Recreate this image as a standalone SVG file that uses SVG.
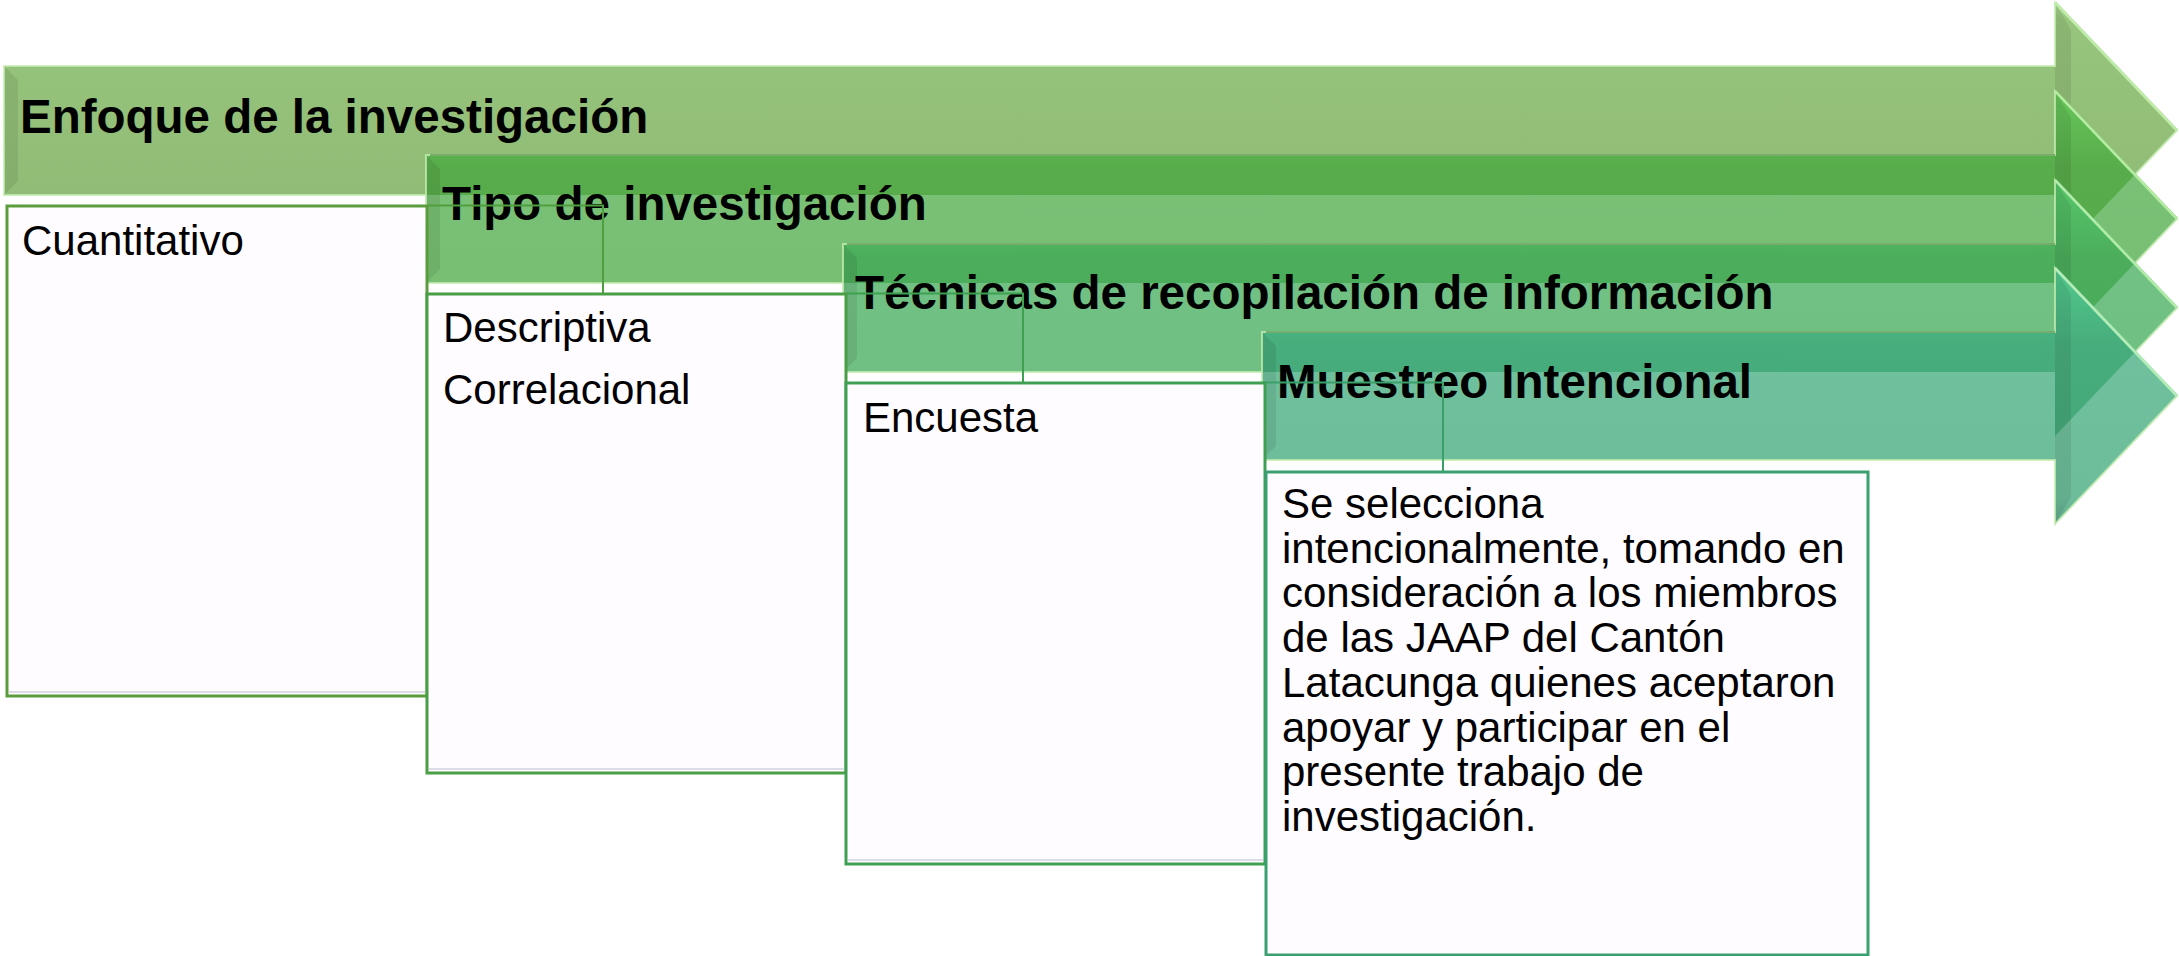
<svg xmlns="http://www.w3.org/2000/svg" xmlns:xlink="http://www.w3.org/1999/xlink" width="2179" height="956" viewBox="0 0 2179 956">
<style>
.title{font-family:"Liberation Sans",Arial,sans-serif;font-weight:bold;font-size:47.5px;fill:#000}
.body{font-family:"Liberation Sans",Arial,sans-serif;font-size:42px;fill:#000}
.box{fill:#fffcff;stroke-width:3}
.conn{fill:none;stroke-width:2}
.glow{fill:none;stroke:#c4ecb0;stroke-width:2;stroke-opacity:0.8}
.bevd{fill:#000;fill-opacity:0.08}
.edge{fill:none;stroke:#4e8a48;stroke-width:2;stroke-opacity:0.6}
</style>
<defs>
<path id="s1" d="M4,66 H2055 V2.5 L2177,130.5 L2055,258.5 V195 H4 Z"/>
<path id="s2" d="M426,155 H2055 V91 L2177,219 L2055,347 V283 H426 Z"/>
<path id="s3" d="M843,244 H2055 V180 L2177,308 L2055,436 V372 H843 Z"/>
<path id="s4" d="M1262,332 H2055 V268 L2177,396 L2055,524 V460 H1262 Z"/>
<clipPath id="c1"><use xlink:href="#s1"/></clipPath>
<clipPath id="c2"><use xlink:href="#s2"/></clipPath>
<clipPath id="c3"><use xlink:href="#s3"/></clipPath>
<linearGradient id="g1" x1="0" y1="0" x2="0" y2="1">
<stop offset="0" stop-color="#a9db92"/><stop offset="0.06" stop-color="#97c57d"/><stop offset="0.5" stop-color="#93bf79"/><stop offset="0.9" stop-color="#8fba75"/><stop offset="1" stop-color="#82a96a"/>
</linearGradient>
<linearGradient id="g2" x1="0" y1="0" x2="0" y2="1">
<stop offset="0" stop-color="#88d07f"/><stop offset="0.1" stop-color="#7ac277"/><stop offset="0.9" stop-color="#77be73"/><stop offset="1" stop-color="#66aa60"/>
</linearGradient>
<linearGradient id="g3" x1="0" y1="0" x2="0" y2="1">
<stop offset="0" stop-color="#80cc8e"/><stop offset="0.1" stop-color="#72c285"/><stop offset="0.9" stop-color="#6fbe82"/><stop offset="1" stop-color="#62aa74"/>
</linearGradient>
<linearGradient id="g4" x1="0" y1="0" x2="0" y2="1">
<stop offset="0" stop-color="#80ccaa"/><stop offset="0.1" stop-color="#70c19e"/><stop offset="0.9" stop-color="#6dbd9a"/><stop offset="1" stop-color="#5fa98a"/>
</linearGradient>
<linearGradient id="o2" x1="0" y1="0" x2="0" y2="1">
<stop offset="0" stop-color="#66c65a"/><stop offset="0.3" stop-color="#58ac4b"/><stop offset="1" stop-color="#55a848"/>
</linearGradient>
<linearGradient id="o3" x1="0" y1="0" x2="0" y2="1">
<stop offset="0" stop-color="#55c66a"/><stop offset="0.3" stop-color="#4cae5c"/><stop offset="1" stop-color="#48a858"/>
</linearGradient>
<linearGradient id="o4" x1="0" y1="0" x2="0" y2="1">
<stop offset="0" stop-color="#52c88c"/><stop offset="0.3" stop-color="#47ad7c"/><stop offset="1" stop-color="#44a678"/>
</linearGradient>
</defs>

<g id="arrow-enfoque">
<use xlink:href="#s1" fill="url(#g1)"/>
<polygon class="bevd" points="4,66 18,80 18,181 4,195"/>
<polygon class="bevd" points="2055,2.5 2071,30 2071,231 2055,258.5"/>
<polyline points="2055,2.5 2177,130.5" fill="none" stroke="#b2e49a" stroke-width="3"/>
<use xlink:href="#s1" class="glow"/>
<text class="title" x="20" y="133">Enfoque de la investigación</text>
</g>

<g id="arrow-tipo">
<use xlink:href="#s2" fill="url(#g2)"/>
<use xlink:href="#s2" fill="url(#o2)" clip-path="url(#c1)"/>
<polygon class="bevd" points="426,155 440,169 440,269 426,283"/>
<polygon class="bevd" points="2055,91 2071,118 2071,320 2055,347"/>
<polyline points="2055,91 2177,219" fill="none" stroke="#8ee07e" stroke-width="3"/>
<use xlink:href="#s2" class="glow"/>
<polyline class="edge" points="430,155 2055,155"/>
<text class="title" x="442" y="220">Tipo de investigación</text>
</g>

<g id="arrow-tecnicas">
<use xlink:href="#s3" fill="url(#g3)"/>
<use xlink:href="#s3" fill="url(#o3)" clip-path="url(#c2)"/>
<polygon class="bevd" points="843,244 857,258 857,358 843,372"/>
<polygon class="bevd" points="2055,180 2071,207 2071,409 2055,436"/>
<polyline points="2055,180 2177,308" fill="none" stroke="#86e094" stroke-width="3"/>
<use xlink:href="#s3" class="glow"/>
<polyline class="edge" points="847,244 2055,244"/>
<text class="title" x="855" y="309">Técnicas de recopilación de información</text>
</g>

<g id="arrow-muestreo">
<use xlink:href="#s4" fill="url(#g4)"/>
<use xlink:href="#s4" fill="url(#o4)" clip-path="url(#c3)"/>
<polygon class="bevd" points="1262,332 1276,346 1276,446 1262,460"/>
<polygon class="bevd" points="2055,268 2071,295 2071,497 2055,524"/>
<polyline points="2055,268 2177,396" fill="none" stroke="#8ee6bc" stroke-width="3"/>
<use xlink:href="#s4" class="glow"/>
<polyline class="edge" points="1266,332 2055,332"/>
<text class="title" x="1277" y="398">Muestreo Intencional</text>
</g>

<g id="connectors">
<polyline class="conn" stroke="#4f9e3f" points="427,205.5 603,205.5 603,293"/>
<polyline class="conn" stroke="#3fa050" points="846,293.5 1023,293.5 1023,382"/>
<polyline class="conn" stroke="#3aa068" points="1265,382.5 1443,382.5 1443,471"/>
</g>

<g id="box-cuantitativo">
<rect class="box" x="7" y="206" width="420" height="490" stroke="#5b9d3c"/>
<line x1="9" y1="692" x2="425" y2="692" stroke="#dcdce6" stroke-width="2"/>
<text class="body" x="22" y="255">Cuantitativo</text>
</g>

<g id="box-tipo">
<rect class="box" x="427" y="294" width="419" height="479" stroke="#4a9e45"/>
<line x1="429" y1="769" x2="844" y2="769" stroke="#dcdce6" stroke-width="2"/>
<text class="body" x="443" y="342">Descriptiva</text>
<text class="body" x="443" y="404">Correlacional</text>
</g>

<g id="box-tecnicas">
<rect class="box" x="846" y="383" width="419" height="481" stroke="#3f9f52"/>
<line x1="848" y1="860" x2="1263" y2="860" stroke="#dcdce6" stroke-width="2"/>
<text class="body" x="863" y="432">Encuesta</text>
</g>

<g id="box-muestreo">
<rect class="box" x="1266" y="472" width="602" height="483" stroke="#3aa070"/>
<text class="body" x="1282" y="518">Se selecciona</text>
<text class="body" x="1282" y="562.7">intencionalmente, tomando en</text>
<text class="body" x="1282" y="607.4">consideración a los miembros</text>
<text class="body" x="1282" y="652.1">de las JAAP del Cantón</text>
<text class="body" x="1282" y="696.8">Latacunga quienes aceptaron</text>
<text class="body" x="1282" y="741.5">apoyar y participar en el</text>
<text class="body" x="1282" y="786.2">presente trabajo de</text>
<text class="body" x="1282" y="830.9">investigación.</text>
</g>
</svg>
